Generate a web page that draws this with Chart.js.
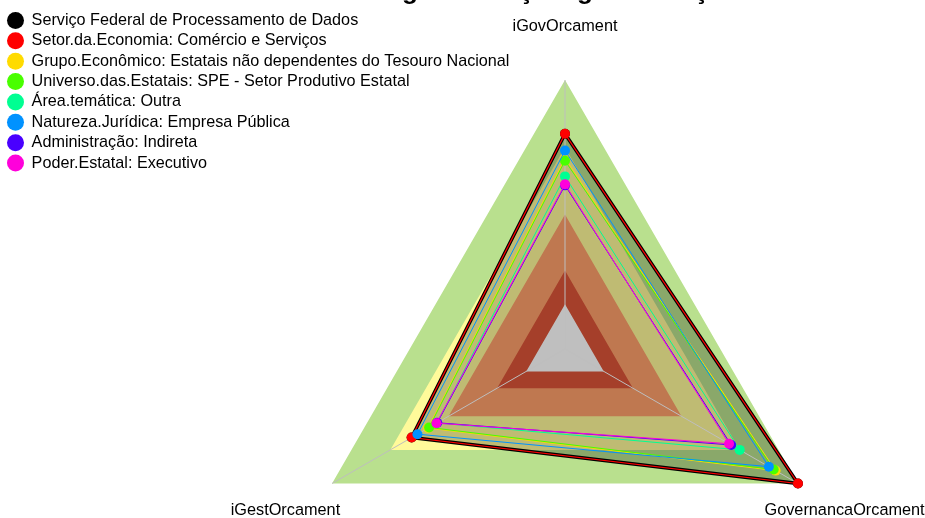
<!DOCTYPE html>
<html>
<head>
<meta charset="utf-8">
<script src="https://cdn.jsdelivr.net/npm/chart.js@4"></script>
<style>
  html, body { margin: 0; padding: 0; background: #ffffff; overflow: hidden; }
  #c { display: block; }
</style>
</head>
<body>
<canvas id="c" width="925" height="518"></canvas>
<script>
// ---------------- DATA ----------------
const chartTitle = "Índices de governança e gestão orçamentária";
const axisLabels = ["iGovOrcament", "GovernancaOrcament", "iGestOrcament"];

const seriesNames = [
  "Serviço Federal de Processamento de Dados",
  "Setor.da.Economia: Comércio e Serviços",
  "Grupo.Econômico: Estatais não dependentes do Tesouro Nacional",
  "Universo.das.Estatais: SPE - Setor Produtivo Estatal",
  "Área.temática: Outra",
  "Natureza.Jurídica: Empresa Pública",
  "Administração: Indireta",
  "Poder.Estatal: Executivo"
];

// values per axis: [iGovOrcament, GovernancaOrcament, iGestOrcament]
const serpro                = [0.76, 1.00, 0.59];
const setorComercioServicos = [0.76, 1.00, 0.59];
const grupoNaoDependentes   = [0.65, 0.885, 0.505];
const universoSPE           = [0.64, 0.875, 0.50];
const areaTematicaOutra     = [0.57, 0.70, 0.46];
const empresaPublica        = [0.685, 0.85, 0.56];
const administracaoIndireta = [0.53, 0.656, 0.458];
const poderExecutivo        = [0.535, 0.645, 0.462];

const seriesValues = [serpro, setorComercioServicos, grupoNaoDependentes, universoSPE,
                      areaTematicaOutra, empresaPublica, administracaoIndireta, poderExecutivo];

// background bands (outer limit of each band)
const bandAprimorado    = [1.00, 1.00, 1.00];
const bandIntermediario = [0.70, 0.70, 0.70];
const bandIniciando     = [0.40, 0.40, 0.40];
const bandInexpressivo  = [0.15, 0.15, 0.15];
const bandZero          = [0.00, 0.00, 0.00];
const bandValues = [bandAprimorado, bandIntermediario, bandIniciando, bandInexpressivo, bandZero];
const bandNames  = ["70–100%", "40–70%", "15–40%", "0–15%", "0%"];

const scaleMin = -0.2;
const scaleMax = 1.0;

// ---------------- STYLE / LAYOUT ----------------
const seriesColors = ["#000000", "#FF0000", "#FFDB00", "#49FF00", "#00FF92", "#0092FF", "#4900FF", "#FF00DB"];
const bandColors   = ["#b9e08e", "#fffa9a", "#ffa06b", "#dc5538", "#ffffff"];
const FONT = "'Liberation Sans', Arial, Helvetica, sans-serif";
const radarCenterX = 565, radarCenterY = 349, radarRadius = 269;
const axisLabelFactor = 1.2;
const titleAnchorX = 410;   // x of the "g" of "governança"

const seriesDatasets = seriesNames.map((name, i) => ({
  label: name,
  data: seriesValues[i],
  borderColor: seriesColors[i],
  backgroundColor: i === 0 ? 'rgba(0,0,0,0.25)' : 'rgba(0,0,0,0)',
  fill: i === 0 ? 'start' : false,
  borderWidth: i === 0 ? 3.5 : (i === 1 ? 1.2 : 1),
  pointRadius: 5,
  pointHoverRadius: 5,
  pointBackgroundColor: seriesColors[i],
  pointBorderColor: seriesColors[i],
  pointBorderWidth: 0,
  order: 20 - i
}));

const bandDatasets = bandValues.map((vals, k) => ({
  label: bandNames[k],
  isBand: true,
  data: vals,
  borderColor: 'rgba(0,0,0,0)',
  borderWidth: 0,
  backgroundColor: bandColors[k],
  fill: 'start',
  pointRadius: 0,
  pointHoverRadius: 0,
  order: 104 - k
}));

const titlePlugin = {
  id: 'cutTitle',
  afterDraw(chart) {
    const ctx = chart.ctx;
    ctx.save();
    ctx.font = "bold 26px " + FONT;
    ctx.fillStyle = '#000';
    ctx.textAlign = 'left';
    ctx.textBaseline = 'alphabetic';
    const idx = chartTitle.indexOf('governança');
    const pre = ctx.measureText(chartTitle.slice(0, idx)).width;
    const gW = ctx.measureText('g').width;
    ctx.fillText(chartTitle, titleAnchorX - pre - gW / 2, -1);
    ctx.restore();
  }
};

const axisLabelPlugin = {
  id: 'axisLabels',
  afterDraw(chart) {
    const s = chart.scales.r;
    const ctx = chart.ctx;
    ctx.save();
    ctx.font = "16.3px " + FONT;
    ctx.fillStyle = '#000';
    ctx.textAlign = 'center';
    ctx.textBaseline = 'middle';
    chart.data.labels.forEach((lab, i) => {
      const p = s.getPointPosition(i, s.drawingArea * axisLabelFactor);
      ctx.fillText(lab, p.x, p.y);
    });
    ctx.restore();
  }
};

new Chart(document.getElementById('c'), {
  type: 'radar',
  data: {
    labels: axisLabels,
    datasets: seriesDatasets.concat(bandDatasets)
  },
  options: {
    responsive: false,
    animation: false,
    devicePixelRatio: 1,
    events: [],
    layout: { padding: { left: 3.33, top: 0, right: 0, bottom: 0 } },
    elements: { line: { tension: 0 } },
    plugins: {
      filler: { drawTime: 'beforeDraw' },
      tooltip: { enabled: false },
      title: { display: false },
      legend: {
        position: 'chartArea',
        align: 'start',
        title: { display: true, text: '', padding: 0, font: { size: 8.2, lineHeight: 1 } },
        labels: {
          usePointStyle: true,
          pointStyle: 'circle',
          boxWidth: 16,
          boxHeight: 12,
          padding: 4.17,
          color: '#000',
          font: { family: FONT, size: 16.2 },
          filter: (item, data) => !data.datasets[item.datasetIndex].isBand,
          sort: (a, b) => a.datasetIndex - b.datasetIndex
        }
      }
    },
    scales: {
      r: {
        min: scaleMin,
        max: scaleMax,
        ticks: { display: false },
        grid: { display: false },
        angleLines: { display: true, color: '#bebebe', lineWidth: 1 },
        pointLabels: { display: false },
        afterFit(scale) {
          scale.xCenter = radarCenterX;
          scale.yCenter = radarCenterY;
          scale.drawingArea = radarRadius;
        }
      }
    }
  },
  plugins: [titlePlugin, axisLabelPlugin]
});
</script>
</body>
</html>
